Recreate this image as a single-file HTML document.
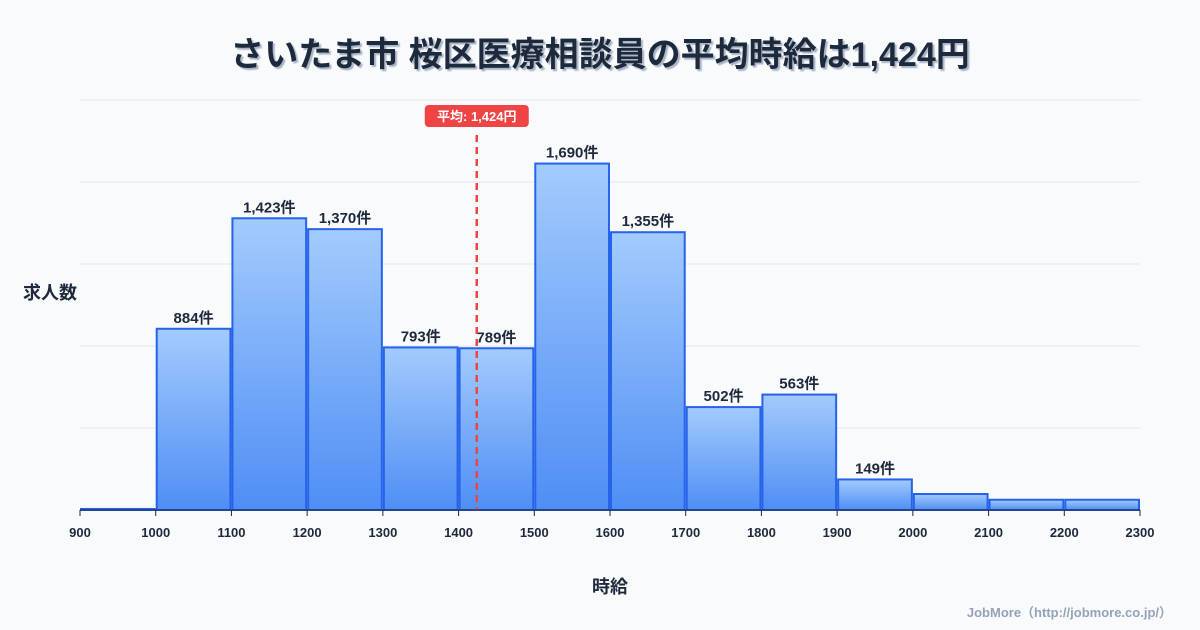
<!DOCTYPE html>
<html><head><meta charset="utf-8">
<style>
body{margin:0;background:#f8fafc;font-family:"Liberation Sans","Noto Sans CJK JP",sans-serif;}
svg{display:block}
</style></head>
<body>
<svg id="chart" width="1200" height="630" viewBox="0 0 1200 630" xmlns="http://www.w3.org/2000/svg">
<defs>
<linearGradient id="bg" x1="0" y1="0" x2="0" y2="1">
<stop offset="0" stop-color="#a3cbfc"/><stop offset="1" stop-color="#4f8ef5"/>
</linearGradient>
<filter id="ts"><feDropShadow dx="2" dy="2" stdDeviation="0.5" flood-color="#94a3b8" flood-opacity="0.8"/></filter>
</defs>
<text x="600" y="66" text-anchor="middle" font-size="34" font-weight="bold" fill="#1e293b" filter="url(#ts)">さいたま市 桜区医療相談員の平均時給は1,424円</text>
<g id="grid"></g>
<g id="bars"></g>
<g id="xaxis"></g>
<text x="50" y="299" text-anchor="middle" font-size="18" font-weight="bold" fill="#1e293b">求人数</text>
<text x="610" y="593" text-anchor="middle" font-size="18" font-weight="bold" fill="#1e293b">時給</text>
<text x="1172" y="617" text-anchor="end" font-size="13" font-weight="bold" fill="#94a3b8">JobMore（http://jobmore.co.jp/）</text>
</svg>
<script>
const binStarts=[900,1000,1100,1200,1300,1400,1500,1600,1700,1800,1900,2000,2100,2200];
const counts=[5,884,1423,1370,793,789,1690,1355,502,563,149,78,50,50];
const labeled=[false,true,true,true,true,true,true,true,true,true,true,false,false,false];
const xTicks=[900,1000,1100,1200,1300,1400,1500,1600,1700,1800,1900,2000,2100,2200,2300];
const yGrid=[400,800,1200,1600,2000];
const meanValue=1424;
const NS="http://www.w3.org/2000/svg";
const x=v=>80+(v-900)*(1060/1400);
const y=v=>510-v*(410/2000);
function mk(tag,attrs,parent){const e=document.createElementNS(NS,tag);for(const k in attrs)e.setAttribute(k,attrs[k]);parent.appendChild(e);return e;}
const grid=document.getElementById('grid'),bars=document.getElementById('bars'),xa=document.getElementById('xaxis');
yGrid.forEach(v=>{const l=mk('line',{x1:80,x2:1140,y1:y(v),y2:y(v),stroke:'#e2e8f0','stroke-width':1},grid);

});
binStarts.forEach((b,i)=>{
const x0=x(b)+1,x1=x(b+100)-1;
const r=mk('rect',{x:x0,y:y(counts[i]),width:x1-x0,height:510-y(counts[i]),fill:'url(#bg)',stroke:'#2563eb','stroke-width':2},bars);


if(labeled[i]){const t=mk('text',{x:(x0+x1)/2,y:y(counts[i])-6,'text-anchor':'middle','font-size':15,'font-weight':'bold',fill:'#1e293b'},bars);
t.textContent=counts[i].toLocaleString('en-US')+'件';

}
});
const ax=mk('line',{x1:80,x2:1140,y1:510,y2:510,stroke:'#1e293b','stroke-width':1},xa);


xTicks.forEach(v=>{mk('line',{x1:x(v),x2:x(v),y1:510,y2:516,stroke:'#1e293b'},xa);
const t=mk('text',{x:x(v),y:537,'text-anchor':'middle','font-size':13,'font-weight':'bold',fill:'#1e293b'},xa);
t.textContent=v;

});
const mx=x(meanValue);
const ml=mk('line',{x1:mx,x2:mx,y1:135,y2:510,stroke:'#ef4444','stroke-width':2.5,'stroke-dasharray':'7,5'},bars);


const mb=mk('rect',{x:mx-52,y:105,width:104,height:22,rx:4,fill:'#ef4444'},bars);


const mt=mk('text',{x:mx,y:121,'text-anchor':'middle','font-size':13,'font-weight':'bold',fill:'#fff'},bars);
mt.textContent='平均: '+meanValue.toLocaleString('en-US')+'円';


</script>
</body></html>
